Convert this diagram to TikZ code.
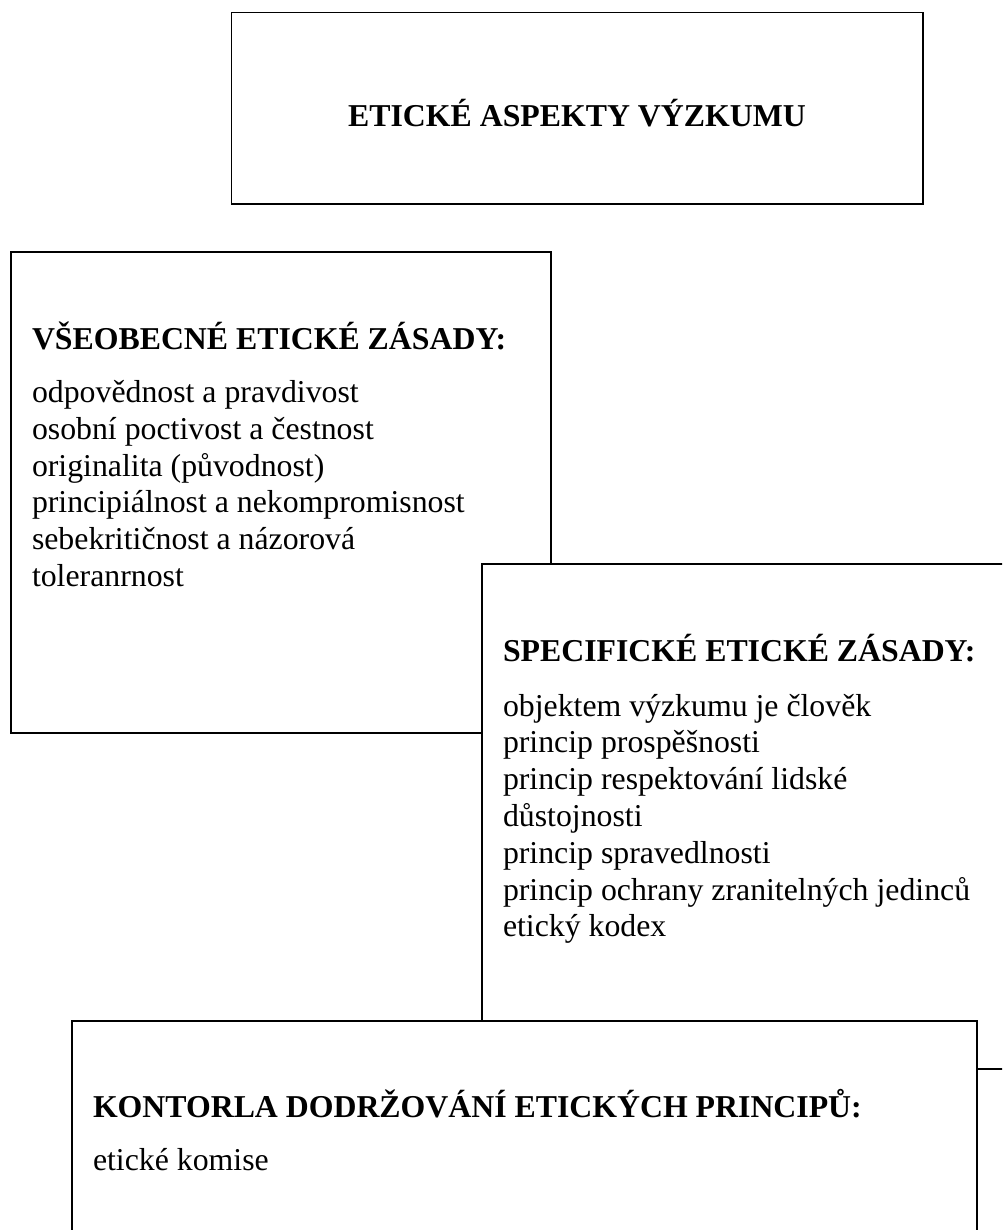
\documentclass[tikz,border=0pt]{standalone}
\usepackage{fontspec}
\setmainfont{Liberation Serif}
\begin{document}
\begin{tikzpicture}[x=1pt,y=-1pt,
  box/.style={draw=black, line width=1.6pt, fill=white, rectangle, inner sep=0pt, outer sep=0pt, anchor=north west},
  txt/.style={anchor=base west, inner sep=0pt, outer sep=0pt, font=\fontsize{31.8}{36.6}\selectfont},
  head/.style={txt, font=\fontsize{31.8}{36.6}\selectfont\bfseries}]
\useasboundingbox (0,0) rectangle (1002,1230);
\fill[white] (0,0) rectangle (1002,1230);
\clip (0,0) rectangle (1002,1230);
% top box
\node[box, minimum width=691.5pt, minimum height=191.5pt] (top) at (231.5,12.7) {};
\node[head, anchor=base] (title) at (577,127) {ETICKÉ ASPEKTY VÝZKUMU};
% general principles
\node[box, minimum width=540pt, minimum height=481pt] (gen) at (11,252) {};
\node[head] (genh) at (32,349) {VŠEOBECNÉ ETICKÉ ZÁSADY:};
\foreach \t [count=\i from 0] in {odpovědnost a pravdivost, osobní poctivost a čestnost, originalita (původnost), principiálnost a nekompromisnost, sebekritičnost a názorová, toleranrnost}
  \node[txt] (gen\i) at (32,402.5+36.8*\i) {\t};
% specific principles
\node[box, minimum width=560pt, minimum height=505pt] (spec) at (482,564) {};
\node[head] (spech) at (503,661) {SPECIFICKÉ ETICKÉ ZÁSADY:};
\foreach \t [count=\i from 0] in {objektem výzkumu je člověk, princip prospěšnosti, princip respektování lidské, důstojnosti, princip spravedlnosti, princip ochrany zranitelných jedinců, etický kodex}
  \node[txt] (spec\i) at (503,716+36.8*\i) {\t};
% control
\node[box, minimum width=905pt, minimum height=260pt] (ctrl) at (72,1021) {};
\node[head] (ctrlh) at (93,1117) {KONTORLA DODRŽOVÁNÍ ETICKÝCH PRINCIPŮ:};
\node[txt] (ctrl0) at (93,1170) {etické komise};
\end{tikzpicture}
\end{document}
